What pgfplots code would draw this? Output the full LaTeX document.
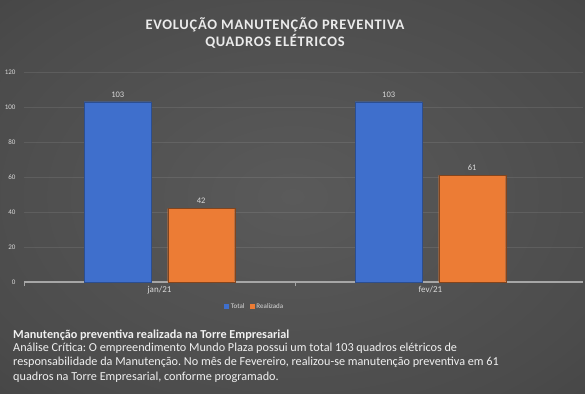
\documentclass[border=0pt]{standalone}
\usepackage{pgfplots}
\pgfplotsset{compat=1.18}
\usepackage{fontspec}
\setmainfont{Carlito}
\newfontfamily\titlefont[LetterSpace=5]{Carlito}
\definecolor{bgA}{HTML}{5A5A5A}
\definecolor{bgB}{HTML}{3C3C3C}
\definecolor{bgC}{HTML}{262626}
\definecolor{txt}{HTML}{D9D9D9}
\definecolor{blueM}{HTML}{3F6FCC}
\definecolor{orM}{HTML}{EC7C35}
\pgfdeclareradialshading{bgshade}{\pgfpointorigin}{color(0bp)=(bgA); color(30bp)=(bgB!50!bgA); color(50bp)=(bgB); color(71bp)=(bgC)}
\pgfplotstableread{
x total real
0 103 42
1 103 61
}\datatab
\frenchspacing
\begin{document}
\begin{tikzpicture}[x=1bp,y=1bp]
\shade[shading=bgshade] (0,0) rectangle (585,393);
\node[font=\titlefont\bfseries\fontsize{14.5bp}{16bp}\selectfont, text=white!92!black] at (275,368) {EVOLUÇÃO MANUTENÇÃO PREVENTIVA};
\node[font=\titlefont\bfseries\fontsize{14.5bp}{16bp}\selectfont, text=white!92!black] at (275,352) {QUADROS ELÉTRICOS};
\begin{axis}[
  at={(24bp,111bp)}, anchor=south west,
  scale only axis, width=559bp, height=210bp,
  xmin=-0.5, xmax=1.563, ymin=0, ymax=120,
  ybar=16.5bp, bar width=67bp,
  axis x line*=bottom, axis y line*=left,
  x axis line style={draw=white!65!black, line width=1.2bp},
  y axis line style={draw=none},
  xtick={0,1}, xticklabels={jan/21,fev/21},
  ytick={0,20,...,120},
  major tick length=0pt,
  /pgf/number format/assume math mode=true,
  extra x ticks={-0.5,0.5}, extra x tick labels={},
  extra x tick style={major tick length=4bp, tick align=outside, tick style={draw=white!65!black, line width=0.8bp}, grid=none},
  ymajorgrids, grid style={draw=white, opacity=0.09, line width=0.8bp},
  ticklabel style={text=txt},
  yticklabel style={font=\fontsize{7bp}{8bp}\selectfont, xshift=-5bp},
  xticklabel style={font=\fontsize{9bp}{10bp}\selectfont, yshift=-1bp},
  nodes near coords,
  every node near coord/.append style={font=\fontsize{8.5bp}{9bp}\selectfont, text=txt, yshift=1bp},
  legend columns=2,
  legend style={at={(0.4124,-0.119)}, anchor=center, draw=none, fill=none, text=txt, font=\fontsize{7bp}{8bp}\selectfont, /tikz/every even column/.append style={column sep=3bp}},
  legend image code/.code={\fill[#1,draw=none] (0bp,-2.5bp) rectangle (5bp,2.5bp);},
  clip=false,
]
\addplot[fill=blueM, draw=blueM!70!black, line width=0.4bp] table[x=x,y=total] {\datatab};
\addplot[fill=orM, draw=orM!55!black, line width=0.4bp] table[x=x,y=real] {\datatab};
\legend{Total,Realizada}
\end{axis}
\begin{scope}[every node/.style={anchor=base west, inner sep=0pt, text=white!94!black, font=\fontsize{12.2bp}{13bp}\selectfont}]
\node at (13,55) {\bfseries Manutenção preventiva realizada na Torre Empresarial};
\node at (13,42) {Análise Crítica: O empreendimento Mundo Plaza possui um total 103 quadros elétricos de};
\node at (13,28) {responsabilidade da Manutenção. No mês de Fevereiro, realizou-se manutenção preventiva em 61};
\node at (13,13) {quadros na Torre Empresarial, conforme programado.};
\end{scope}
\end{tikzpicture}
\end{document}
